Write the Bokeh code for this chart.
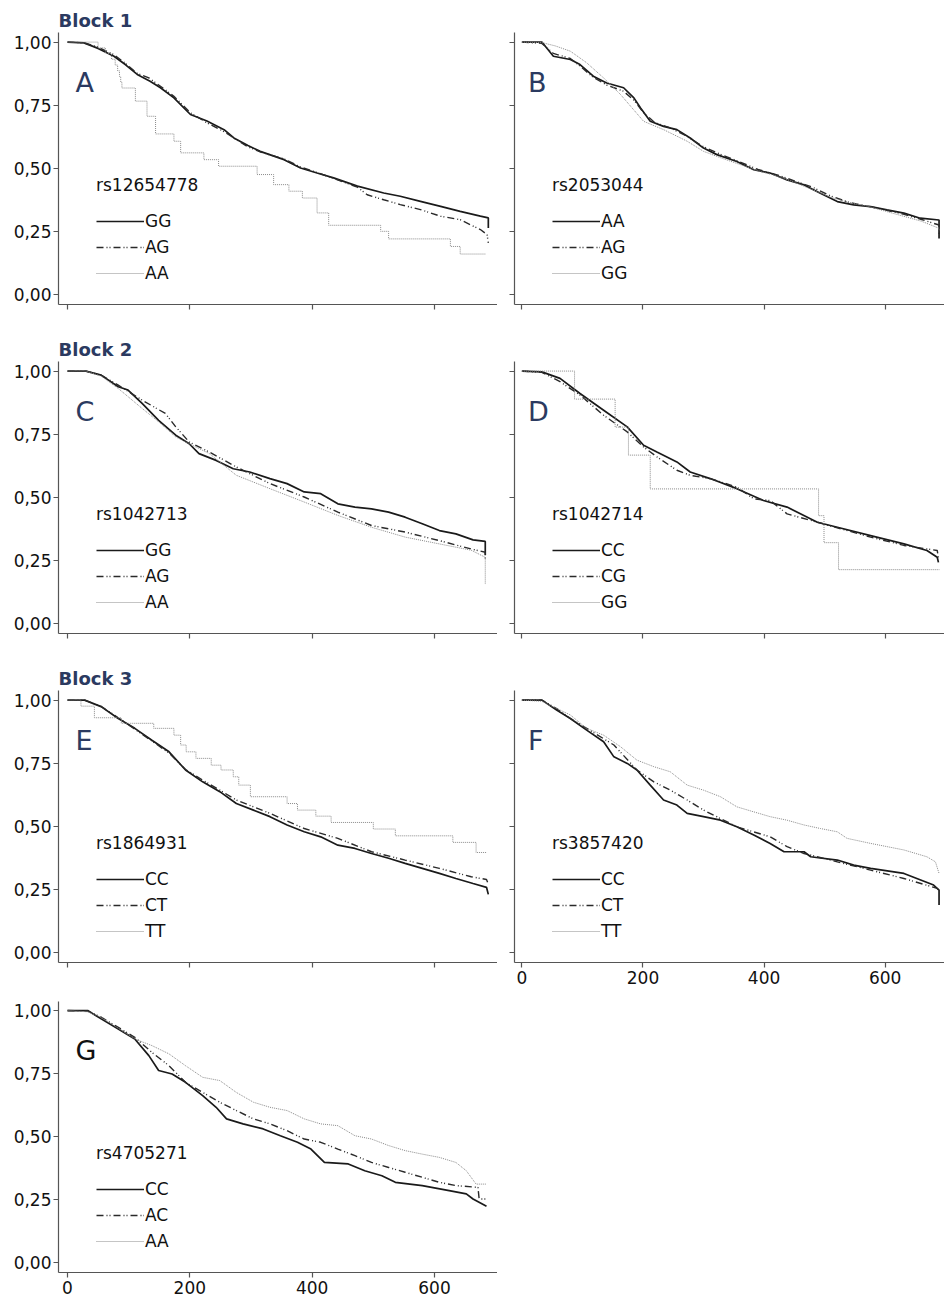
from bokeh.plotting import figure
from bokeh.models import (FixedTicker, CustomJSTickFormatter, Legend, LegendItem,
                          Label, Range1d, Title)
from bokeh.layouts import column, row
from bokeh.embed import file_html
from bokeh.resources import INLINE

# ---------------- data ----------------
X_TICKS = [0, 200, 400, 600]
Y_TICKS = [0, 0.25, 0.5, 0.75, 1.0]

# Panel A  rs12654778
A_GG_T = [0, 27, 50, 76, 95, 114, 135, 152, 174, 201, 228, 256, 272, 295, 315, 354, 381, 408, 435, 474, 517, 544, 577, 610, 642, 675, 688, 688]
A_GG_S = [1.0, 0.997, 0.975, 0.944, 0.91, 0.872, 0.845, 0.819, 0.779, 0.713, 0.687, 0.653, 0.620, 0.59, 0.567, 0.534, 0.501, 0.481, 0.462, 0.429, 0.402, 0.389, 0.369, 0.349, 0.329, 0.31, 0.303, 0.263]
A_AG_T = [0, 27, 50, 76, 95, 114, 133, 152, 174, 201, 228, 256, 272, 295, 315, 354, 381, 408, 435, 474, 490, 517, 544, 577, 610, 642, 675, 686, 688]
A_AG_S = [1.0, 0.997, 0.98, 0.95, 0.915, 0.876, 0.858, 0.825, 0.785, 0.72, 0.68, 0.645, 0.62, 0.585, 0.565, 0.537, 0.505, 0.483, 0.46, 0.425, 0.395, 0.375, 0.356, 0.336, 0.31, 0.296, 0.257, 0.237, 0.204]
A_AA_T = [0, 50, 62, 72, 78, 82, 85, 87, 89, 111, 130, 144, 174, 185, 223, 247, 310, 337, 362, 384, 408, 427, 512, 525, 626, 642, 684]
A_AA_S = [1.0, 0.977, 0.955, 0.932, 0.909, 0.886, 0.864, 0.841, 0.818, 0.766, 0.706, 0.636, 0.607, 0.561, 0.534, 0.508, 0.475, 0.435, 0.409, 0.382, 0.323, 0.274, 0.25, 0.22, 0.19, 0.16, 0.16]

# Panel B  rs2053044
B_AA_T = [0, 33, 52, 80, 96, 118, 140, 168, 185, 196, 212, 234, 256, 278, 300, 322, 355, 383, 410, 438, 466, 493, 521, 548, 576, 603, 631, 658, 689, 689]
B_AA_S = [1.0, 1.0, 0.944, 0.931, 0.911, 0.865, 0.838, 0.819, 0.779, 0.739, 0.686, 0.666, 0.653, 0.620, 0.580, 0.554, 0.527, 0.494, 0.481, 0.454, 0.434, 0.401, 0.368, 0.355, 0.348, 0.335, 0.322, 0.302, 0.295, 0.222]
B_AG_T = [0, 33, 52, 80, 96, 118, 140, 168, 185, 201, 220, 245, 270, 300, 330, 360, 390, 420, 450, 480, 510, 540, 570, 600, 630, 660, 689, 689]
B_AG_S = [1.0, 0.995, 0.955, 0.935, 0.905, 0.86, 0.83, 0.805, 0.77, 0.72, 0.68, 0.66, 0.63, 0.585, 0.553, 0.525, 0.495, 0.475, 0.45, 0.425, 0.39, 0.365, 0.35, 0.335, 0.318, 0.297, 0.275, 0.24]
B_GG_T = [0, 33, 55, 80, 107, 135, 163, 201, 234, 273, 300, 330, 360, 390, 420, 450, 480, 510, 540, 570, 600, 630, 660, 689, 689]
B_GG_S = [1.0, 0.998, 0.985, 0.964, 0.918, 0.858, 0.792, 0.686, 0.653, 0.607, 0.567, 0.54, 0.515, 0.49, 0.47, 0.445, 0.415, 0.385, 0.365, 0.35, 0.33, 0.31, 0.29, 0.262, 0.25]

# Panel C  rs1042713
C_GG_T = [0, 30, 55, 83, 99, 122, 149, 177, 199, 215, 243, 271, 298, 331, 359, 387, 414, 442, 470, 497, 525, 552, 580, 608, 635, 663, 683, 683]
C_GG_S = [1.0, 1.0, 0.984, 0.938, 0.925, 0.872, 0.805, 0.746, 0.712, 0.673, 0.646, 0.613, 0.600, 0.574, 0.554, 0.521, 0.514, 0.474, 0.461, 0.454, 0.441, 0.421, 0.395, 0.368, 0.355, 0.331, 0.325, 0.27]
C_AG_T = [0, 30, 55, 83, 122, 160, 177, 199, 232, 276, 331, 387, 442, 497, 552, 608, 660, 683, 683]
C_AG_S = [1.0, 1.0, 0.984, 0.944, 0.885, 0.832, 0.779, 0.719, 0.679, 0.620, 0.554, 0.501, 0.441, 0.388, 0.362, 0.328, 0.295, 0.282, 0.25]
C_AA_T = [0, 30, 55, 83, 122, 149, 177, 199, 232, 276, 331, 387, 442, 497, 552, 608, 660, 683, 683]
C_AA_S = [1.0, 1.0, 0.98, 0.931, 0.852, 0.799, 0.739, 0.712, 0.673, 0.587, 0.534, 0.481, 0.428, 0.381, 0.342, 0.315, 0.29, 0.262, 0.156]

# Panel D  rs1042714
D_CC_T = [0, 33, 63, 96, 135, 174, 201, 223, 256, 278, 311, 355, 399, 438, 488, 521, 576, 631, 669, 686, 688]
D_CC_S = [1.0, 0.997, 0.971, 0.911, 0.845, 0.779, 0.706, 0.679, 0.640, 0.600, 0.574, 0.534, 0.487, 0.461, 0.401, 0.381, 0.348, 0.315, 0.289, 0.262, 0.242]
D_CG_T = [0, 33, 63, 96, 135, 174, 201, 223, 256, 278, 311, 355, 383, 410, 438, 488, 576, 631, 686, 688]
D_CG_S = [1.0, 0.995, 0.958, 0.905, 0.825, 0.759, 0.699, 0.660, 0.607, 0.587, 0.574, 0.540, 0.494, 0.487, 0.434, 0.401, 0.342, 0.309, 0.289, 0.26]
D_GG_T = [0, 87, 154, 176, 212, 490, 499, 523, 690]
D_GG_S = [1.0, 0.889, 0.778, 0.667, 0.533, 0.427, 0.32, 0.213, 0.213]

# Panel E  rs1864931
E_CC_T = [0, 28, 55, 83, 110, 138, 166, 193, 221, 249, 276, 304, 331, 359, 387, 414, 442, 470, 497, 525, 552, 580, 608, 635, 663, 685, 688]
E_CC_S = [1.0, 1.0, 0.974, 0.927, 0.888, 0.841, 0.795, 0.723, 0.676, 0.637, 0.590, 0.564, 0.538, 0.505, 0.478, 0.458, 0.425, 0.412, 0.392, 0.373, 0.353, 0.333, 0.313, 0.293, 0.273, 0.258, 0.23]
E_CT_T = [0, 28, 55, 83, 110, 138, 166, 193, 221, 249, 276, 331, 387, 442, 497, 552, 608, 660, 685, 688]
E_CT_S = [1.0, 1.0, 0.975, 0.93, 0.885, 0.838, 0.79, 0.725, 0.683, 0.643, 0.604, 0.551, 0.491, 0.452, 0.399, 0.366, 0.333, 0.30, 0.289, 0.27]
E_TT_T = [0, 22, 44, 88, 141, 174, 185, 194, 210, 235, 251, 271, 280, 299, 359, 376, 406, 431, 500, 536, 630, 668, 686]
E_TT_S = [1.0, 0.976, 0.930, 0.908, 0.888, 0.861, 0.822, 0.795, 0.769, 0.742, 0.723, 0.696, 0.663, 0.617, 0.590, 0.564, 0.540, 0.515, 0.489, 0.462, 0.436, 0.396, 0.396]

# Panel F  rs3857420
F_CC_T = [0, 33, 58, 80, 107, 135, 152, 174, 190, 212, 234, 256, 273, 300, 328, 355, 383, 410, 433, 466, 477, 521, 548, 576, 631, 680, 689, 689]
F_CC_S = [1.0, 1.0, 0.960, 0.927, 0.881, 0.835, 0.775, 0.749, 0.723, 0.663, 0.604, 0.584, 0.551, 0.538, 0.524, 0.498, 0.465, 0.432, 0.399, 0.399, 0.379, 0.366, 0.346, 0.333, 0.313, 0.267, 0.247, 0.188]
F_CT_T = [0, 33, 58, 80, 107, 152, 190, 218, 245, 273, 300, 355, 410, 438, 466, 521, 576, 631, 686, 689]
F_CT_S = [1.0, 1.0, 0.965, 0.927, 0.888, 0.822, 0.723, 0.676, 0.643, 0.604, 0.564, 0.498, 0.458, 0.419, 0.392, 0.359, 0.326, 0.293, 0.254, 0.245]
F_TT_T = [0, 33, 80, 107, 135, 163, 190, 218, 245, 273, 300, 328, 355, 383, 410, 438, 466, 493, 521, 537, 576, 631, 669, 683, 689]
F_TT_S = [1.0, 0.995, 0.941, 0.888, 0.861, 0.815, 0.762, 0.736, 0.716, 0.663, 0.643, 0.617, 0.577, 0.557, 0.538, 0.524, 0.505, 0.491, 0.478, 0.452, 0.432, 0.406, 0.379, 0.359, 0.313]

# Panel G  rs4705271
G_CC_T = [0, 33, 55, 83, 110, 133, 149, 171, 193, 221, 243, 260, 287, 320, 348, 376, 398, 420, 459, 486, 514, 536, 580, 624, 652, 663, 685]
G_CC_S = [1.0, 1.0, 0.967, 0.927, 0.887, 0.821, 0.762, 0.748, 0.715, 0.662, 0.616, 0.570, 0.550, 0.530, 0.503, 0.477, 0.450, 0.397, 0.391, 0.364, 0.344, 0.318, 0.305, 0.285, 0.272, 0.252, 0.223]
G_AC_T = [0, 33, 55, 110, 138, 166, 193, 221, 249, 276, 304, 331, 359, 387, 414, 442, 470, 497, 525, 552, 580, 608, 635, 671, 673, 685]
G_AC_S = [1.0, 0.998, 0.974, 0.894, 0.834, 0.781, 0.715, 0.675, 0.636, 0.603, 0.570, 0.550, 0.523, 0.490, 0.477, 0.450, 0.424, 0.397, 0.377, 0.358, 0.338, 0.318, 0.305, 0.298, 0.252, 0.252]
G_AA_T = [0, 33, 55, 110, 138, 166, 193, 221, 249, 276, 304, 331, 359, 387, 414, 442, 470, 497, 525, 552, 580, 608, 635, 652, 668, 685]
G_AA_S = [1.0, 0.995, 0.974, 0.887, 0.861, 0.828, 0.781, 0.735, 0.722, 0.675, 0.636, 0.616, 0.603, 0.570, 0.550, 0.543, 0.503, 0.490, 0.464, 0.444, 0.430, 0.417, 0.397, 0.364, 0.311, 0.311]

PANEL_LETTERS = ["A", "B", "C", "D", "E", "F", "G"]
SNPS = ["rs12654778", "rs2053044", "rs1042713", "rs1042714", "rs1864931", "rs3857420", "rs4705271"]
GENOTYPES = [["GG", "AG", "AA"], ["AA", "AG", "GG"], ["GG", "AG", "AA"], ["CC", "CG", "GG"],
             ["CC", "CT", "TT"], ["CC", "CT", "TT"], ["CC", "AC", "AA"]]
BLOCKS = ["Block 1", None, "Block 2", None, "Block 3", None, None]

CURVES = [
    [(A_GG_T, A_GG_S, False), (A_AG_T, A_AG_S, False), (A_AA_T, A_AA_S, True)],
    [(B_AA_T, B_AA_S, False), (B_AG_T, B_AG_S, False), (B_GG_T, B_GG_S, False)],
    [(C_GG_T, C_GG_S, False), (C_AG_T, C_AG_S, False), (C_AA_T, C_AA_S, False)],
    [(D_CC_T, D_CC_S, False), (D_CG_T, D_CG_S, False), (D_GG_T, D_GG_S, True)],
    [(E_CC_T, E_CC_S, False), (E_CT_T, E_CT_S, False), (E_TT_T, E_TT_S, True)],
    [(F_CC_T, F_CC_S, False), (F_CT_T, F_CT_S, False), (F_TT_T, F_TT_S, False)],
    [(G_CC_T, G_CC_S, False), (G_AC_T, G_AC_S, False), (G_AA_T, G_AA_S, False)],
]

# ---------------- styling ----------------
FONT = "DejaVu Sans"
NAVY = "#2b3a60"
AXIS_COL = "#555555"
STYLES = [
    dict(line_color="#1a1a1a", line_width=1.7, line_dash="solid"),
    dict(line_color="#2a2a2a", line_width=1.4, line_dash="7 3 1 2 1 3"),
    dict(line_color="#8a8a8a", line_width=1.0, line_dash="1 1"),
]


def make_panel(i, left, show_x_labels, top, bottom, fh=272):
    ytop = 1.038 if fh == 272 else 1.036
    p = figure(
        frame_width=439 if left else 430, frame_height=fh,
        x_range=Range1d(-14.7, 703) if left else Range1d(-12.2, 698),
        y_range=Range1d(-0.04, ytop),
        output_backend="svg", toolbar_location=None,
        min_border_left=58 if left else 17, min_border_right=0,
        min_border_top=top, min_border_bottom=bottom,
        background_fill_color="white", border_fill_color="white",
    )
    p.outline_line_color = None
    p.xgrid.visible = False
    p.ygrid.visible = False

    p.xaxis.ticker = FixedTicker(ticks=X_TICKS)
    p.yaxis.ticker = FixedTicker(ticks=Y_TICKS)
    if show_x_labels:
        p.xaxis.formatter = CustomJSTickFormatter(code="return tick.toFixed(0);")
    else:
        p.xaxis.formatter = CustomJSTickFormatter(code="return '';")
    if left:
        p.yaxis.formatter = CustomJSTickFormatter(code="return tick.toFixed(2).replace('.', ',');")
    else:
        p.yaxis.formatter = CustomJSTickFormatter(code="return '';")
    for ax in p.xaxis + p.yaxis:
        ax.axis_line_color = AXIS_COL
        ax.axis_line_width = 1.2
        ax.major_tick_line_color = AXIS_COL
        ax.major_tick_line_width = 1.2
        ax.major_tick_out = 5
        ax.major_tick_in = 0
        ax.minor_tick_line_color = None
        ax.major_label_text_font = FONT
        ax.major_label_text_font_size = "17px"
        ax.major_label_text_color = "#111111"
    p.yaxis.major_label_standoff = 2
    p.xaxis.major_label_standoff = 3

    if BLOCKS[i]:
        p.title = Title(text=BLOCKS[i], align="left", text_font=FONT, text_font_size="18px",
                        text_font_style="bold", text_color=NAVY, standoff=4, offset=0)

    items = []
    for (t, s, stepped), style, lab in zip(CURVES[i], STYLES, GENOTYPES[i]):
        if stepped:
            r = p.step(t, s, mode="after", **style)
        else:
            r = p.line(t, s, **style)
        items.append(LegendItem(label=lab, renderers=[r]))

    leg = Legend(items=items, location=(38, 21), title=SNPS[i],
                 title_text_font=FONT, title_text_font_size="17px", title_text_font_style="normal",
                 title_text_color="#111111", title_standoff=16,
                 label_text_font=FONT, label_text_font_size="17px", label_text_color="#111111",
                 glyph_width=48, glyph_height=20, label_height=20, spacing=6,
                 padding=0, margin=0, label_standoff=1,
                 border_line_color=None, background_fill_alpha=0)
    p.add_layout(leg)

    p.add_layout(Label(x=13 if left else 10, y=0.84, text=PANEL_LETTERS[i],
                       text_font=FONT, text_font_size="27px",
                       text_color="#111111" if PANEL_LETTERS[i] == "G" else NAVY,
                       text_baseline="alphabetic", text_align="left"))
    return p


pA = make_panel(0, True, False, 32, 30)
pB = make_panel(1, False, False, 32, 30)
pC = make_panel(2, True, False, 24, 30)
pD = make_panel(3, False, False, 24, 30)
pE = make_panel(4, True, False, 24, 30)
pF = make_panel(5, False, True, 24, 30)
pG = make_panel(6, True, True, 9, 28, fh=271)

layout = column(row(pA, pB), row(pC, pD), row(pE, pF), pG)

open("out.html", "w").write(file_html(layout, INLINE))
